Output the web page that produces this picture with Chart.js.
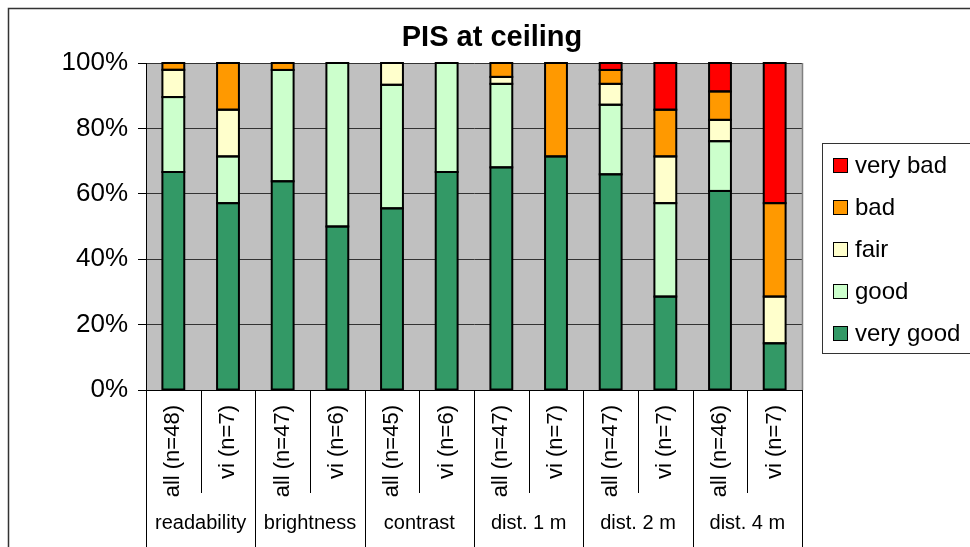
<!DOCTYPE html>
<html>
<head>
<meta charset="utf-8">
<script src="https://cdn.jsdelivr.net/npm/chart.js@4/dist/chart.umd.min.js"></script>
<style>
  html, body { margin: 0; padding: 0; background: #ffffff; }
  #wrap { width: 970px; height: 547px; position: relative; }
</style>
</head>
<body>
<div id="wrap"><canvas id="c" width="970" height="547"></canvas></div>
<script>
// Answer counts per rating, for each respondent subset
const subLabels = ['all (n=48)', 'vi (n=7)', 'all (n=47)', 'vi (n=6)', 'all (n=45)', 'vi (n=6)',
                   'all (n=47)', 'vi (n=7)', 'all (n=47)', 'vi (n=7)', 'all (n=46)', 'vi (n=7)'];
const groupLabels = ['readability', 'brightness', 'contrast', 'dist. 1 m', 'dist. 2 m', 'dist. 4 m'];
const respondents = [48, 7, 47, 6, 45, 6, 47, 7, 47, 7, 46, 7];

const veryGood = [32, 4, 30, 3, 25, 4, 32, 5, 31, 2, 28, 1];
const good     = [11, 1, 16, 3, 17, 2, 12, 0, 10, 2, 7, 0];
const fair     = [ 4, 1,  0, 0,  3, 0,  1, 0,  3, 1, 3, 1];
const bad      = [ 1, 1,  1, 0,  0, 0,  2, 2,  2, 1, 4, 2];
const veryBad  = [ 0, 0,  0, 0,  0, 0,  0, 0,  1, 1, 4, 3];

const seriesNames  = ['very good', 'good', 'fair', 'bad', 'very bad'];
const seriesColors = ['#339966', '#CCFFCC', '#FFFFCC', '#FF9900', '#FF0000'];
const yTicks = [0, 20, 40, 60, 80, 100];

const titleText = 'PIS at ceiling';
const FONT = "'Liberation Sans', Arial, Helvetica, sans-serif";

// share of respondents (in %) for each subset
function toShare(counts) {
  return counts.map((c, i) => c === 0 ? null : c / respondents[i] * 100);
}

const seriesCounts = [veryGood, good, fair, bad, veryBad];
const datasets = seriesCounts.map((counts, k) => ({
  label: seriesNames[k],
  data: toShare(counts),
  backgroundColor: seriesColors[k],
  borderWidth: 0,
  barPercentage: 0.4,
  categoryPercentage: 1.0
}));

// grey plot background and outer frame
const backdrop = {
  id: 'backdrop',
  beforeDraw(chart) {
    const { ctx, chartArea: a } = chart;
    ctx.save();
    ctx.fillStyle = '#ffffff';
    ctx.fillRect(0, 0, chart.width, chart.height);
    ctx.fillStyle = '#C0C0C0';
    ctx.fillRect(a.left, a.top, a.right - a.left, a.bottom - a.top);
    ctx.strokeStyle = '#333333';
    ctx.lineWidth = 1.5;
    ctx.strokeRect(8.5, 8.5, 1200, 1200);
    ctx.restore();
  }
};

// black outline around every bar segment
const outlines = {
  id: 'outlines',
  afterDatasetsDraw(chart) {
    const ctx = chart.ctx;
    ctx.save();
    ctx.strokeStyle = '#000000';
    ctx.lineWidth = 2;
    chart.data.datasets.forEach((ds, di) => {
      chart.getDatasetMeta(di).data.forEach(bar => {
        const p = bar.getProps(['x', 'y', 'base', 'width'], true);
        if (p.y == null || isNaN(p.y) || Math.abs(p.base - p.y) < 0.01) return;
        const top = Math.min(p.y, p.base);
        const h = Math.abs(p.base - p.y);
        ctx.strokeRect(p.x - p.width / 2, top, p.width, h);
      });
    });
    ctx.restore();
  }
};

// title, plot edge, category dividers, group names and legend
const decorations = {
  id: 'decorations',
  afterDraw(chart) {
    const { ctx, chartArea: a } = chart;
    const xs = chart.scales.x;
    ctx.save();

    // right edge of plot
    ctx.strokeStyle = '#808080';
    ctx.lineWidth = 1.5;
    ctx.beginPath();
    ctx.moveTo(Math.round(a.right) + 0.5, a.top);
    ctx.lineTo(Math.round(a.right) + 0.5, a.bottom);
    ctx.stroke();

    // dividers below the axis
    const n = subLabels.length;
    const step = (xs.right - xs.left) / n;
    ctx.strokeStyle = '#000000';
    ctx.lineWidth = 1;
    for (let k = 0; k <= n; k++) {
      const x = Math.round(xs.left + k * step) + 0.5;
      ctx.beginPath();
      ctx.moveTo(x, a.bottom);
      ctx.lineTo(x, k % 2 === 0 ? chart.height : a.bottom + 103);
      ctx.stroke();
    }

    // group names
    ctx.fillStyle = '#000000';
    ctx.font = '20px ' + FONT;
    ctx.textAlign = 'center';
    ctx.textBaseline = 'middle';
    groupLabels.forEach((g, i) => {
      ctx.fillText(g, xs.left + (2 * i + 1) * step, a.bottom + 133);
    });

    // title
    ctx.font = 'bold 29px ' + FONT;
    ctx.textBaseline = 'alphabetic';
    ctx.fillText(titleText, 492, 46);

    // legend
    const lx = 822.5, ly = 143.5;
    ctx.strokeStyle = '#333333';
    ctx.lineWidth = 1;
    ctx.strokeRect(lx, ly, 400, 210);
    ctx.font = '24px ' + FONT;
    ctx.textAlign = 'left';
    ctx.textBaseline = 'middle';
    const order = chart.data.datasets.map((d, i) => i).reverse();
    order.forEach((di, row) => {
      const ds = chart.data.datasets[di];
      const cy = 165 + row * 42;
      ctx.fillStyle = ds.backgroundColor;
      ctx.fillRect(833, cy - 7, 15, 15);
      ctx.strokeStyle = '#000000';
      ctx.strokeRect(833.5, cy - 6.5, 14, 14);
      ctx.fillStyle = '#000000';
      ctx.fillText(ds.label, 855, cy + 1);
    });

    ctx.restore();
  }
};

new Chart(document.getElementById('c'), {
  type: 'bar',
  data: { labels: subLabels, datasets },
  options: {
    responsive: false,
    animation: false,
    devicePixelRatio: 1,
    layout: { padding: { top: 63, right: 168, bottom: 0, left: 0 } },
    plugins: {
      legend: { display: false },
      title: { display: false },
      tooltip: { enabled: false }
    },
    scales: {
      x: {
        stacked: true,
        grid: { display: false, drawTicks: false },
        border: { display: true, color: '#000000', width: 1 },
        ticks: {
          color: '#000000',
          font: { family: FONT, size: 22 },
          minRotation: 90,
          maxRotation: 90,
          padding: 15,
          autoSkip: false
        },
        afterFit(scale) { scale.height = 157; }
      },
      y: {
        stacked: true,
        min: 0,
        max: 100,
        afterBuildTicks(scale) { scale.ticks = yTicks.map(v => ({ value: v })); },
        grid: { color: '#333333', lineWidth: 1, tickLength: 8, tickColor: '#000000' },
        border: { display: true, color: '#000000', width: 1 },
        ticks: {
          color: '#000000',
          font: { family: FONT, size: 26 },
          padding: 10,
          callback: v => v + '%'
        },
        afterFit(scale) { scale.width = 146; }
      }
    }
  },
  plugins: [backdrop, outlines, decorations]
});
</script>
</body>
</html>
